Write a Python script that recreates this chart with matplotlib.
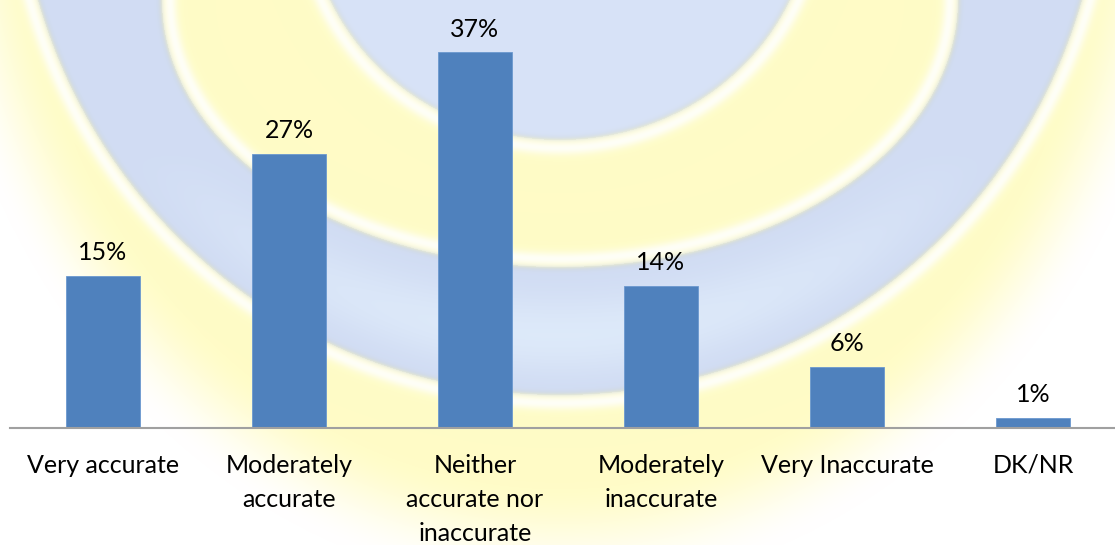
import numpy as np
import matplotlib
matplotlib.use("Agg")
import matplotlib.pyplot as plt

# Data
categories = ["Very accurate", "Moderately\naccurate", "Neither\naccurate nor\ninaccurate",
              "Moderately\ninaccurate", "Very Inaccurate", "DK/NR"]
values = [15, 27, 37, 14, 6, 1]
value_labels = ["15%", "27%", "37%", "14%", "6%", "1%"]

W, H = 1115, 545
FONT = "Lato"


def edge_dist(x, y, cx, cy, a, b):
    # approximate signed pixel distance to an ellipse edge (negative inside)
    dx, dy = (x - cx) / a, (y - cy) / b
    r = np.sqrt(dx ** 2 + dy ** 2) + 1e-9
    gx, gy = dx / a / r, dy / b / r
    return (r - 1) / np.sqrt(gx ** 2 + gy ** 2)


def soft(d, w=1.5):
    return 1 / (1 + np.exp(-np.clip(d / w, -50, 50)))


def mix(c0, c1, t):
    return c0 * (1 - t[..., None]) + c1 * t[..., None]


def background():
    yy, xx = np.mgrid[0:H, 0:W] + 0.5
    white = np.array([1.0, 1.0, 1.0])
    yellow = np.array([1.0, 0.988, 0.78])
    ring_c = np.array([0.82, 0.865, 0.955])
    ring_hi = np.array([0.90, 0.95, 0.995])
    rim_c = np.array([0.75, 0.79, 0.86])
    disc_c = np.array([0.845, 0.888, 0.97])

    d_disc = edge_dist(xx, yy, 560, -100, 253, 240)
    d_in = edge_dist(xx, yy, 560, 0, 398, 267)
    d_out = edge_dist(xx, yy, 560, -150, 543, 545)

    # yellow glow outside the rings
    rg = np.sqrt(((xx - 560) / 600) ** 2 + ((yy + 150) / 700) ** 2)
    g = np.clip((1.06 - rg) / 0.16, 0, 1)
    g = g * g * (3 - 2 * g)
    img = mix(np.broadcast_to(white, (H, W, 3)), yellow, g)

    # outer blue ring
    t = np.clip(d_in / (d_in - d_out + 1e-9), 0, 1)
    hi = np.sin(np.pi * t) ** 2 * np.clip((yy - 150) / 250, 0, 1)
    ring = mix(np.broadcast_to(ring_c, (H, W, 3)), ring_hi, hi * 0.8)
    rim = np.exp(-(d_in / 4) ** 2) + np.exp(-(d_out / 4) ** 2)
    ring = mix(ring, rim_c, np.clip(rim, 0, 1) * 0.5)
    img = mix(img, ring, 1 - soft(d_out))

    # yellow band
    img = mix(img, np.broadcast_to(yellow, (H, W, 3)), 1 - soft(d_in))

    # inner disc
    disc = mix(np.broadcast_to(disc_c, (H, W, 3)), rim_c, np.exp(-(d_disc / 4) ** 2) * 0.4)
    img = mix(img, disc, 1 - soft(d_disc))

    # white halos on the yellow side of each edge
    halo = np.maximum.reduce([
        np.exp(-((d_out - 8) / 7) ** 2) * (d_out > 0),
        np.exp(-((-d_in - 8) / 7) ** 2) * (d_in < 0) * (d_disc > 0),
        np.exp(-((d_disc - 8) / 7) ** 2) * (d_disc > 0),
    ])
    img = mix(img, np.broadcast_to(white, (H, W, 3)), halo * 0.85)
    return np.clip(img, 0, 1)


def main():
    fig = plt.figure(figsize=(W / 100, H / 100), dpi=100)

    bg = fig.add_axes([0, 0, 1, 1], zorder=0)
    bg.imshow(background(), extent=(0, W, H, 0), aspect="auto", interpolation="bilinear")
    bg.set_axis_off()

    # plot area: 6 slots of 186 px starting at x=10, baseline at y=428
    ax = fig.add_axes([10 / W, (H - 428) / H, 6 * 186 / W, 428 / H], zorder=1)
    ax.patch.set_alpha(0)

    x = np.arange(len(categories))
    bars = ax.bar(x, values, width=0.4, color="#4f81bd", edgecolor="#6b98cf", linewidth=0.6)
    for rect, lab in zip(bars, value_labels):
        ax.annotate(lab, (rect.get_x() + rect.get_width() / 2, rect.get_height()),
                    xytext=(0, 8.5), textcoords="offset points", ha="center", va="bottom",
                    fontsize=18, family=FONT, color="black")

    ax.set_xlim(-0.5, len(categories) - 0.5)
    ax.set_ylim(0, 428 / 10.15)
    ax.set_xticks(x)
    ax.set_xticklabels(categories, fontsize=18, family=FONT, linespacing=1.58)
    ax.tick_params(axis="x", length=0, pad=18.5)
    ax.set_yticks([])
    for side in ["top", "left", "right"]:
        ax.spines[side].set_visible(False)
    ax.spines["bottom"].set_color("#a0a0a0")
    ax.spines["bottom"].set_linewidth(1.5)

    fig.savefig("out.png", dpi=100)


if __name__ == "__main__":
    main()
